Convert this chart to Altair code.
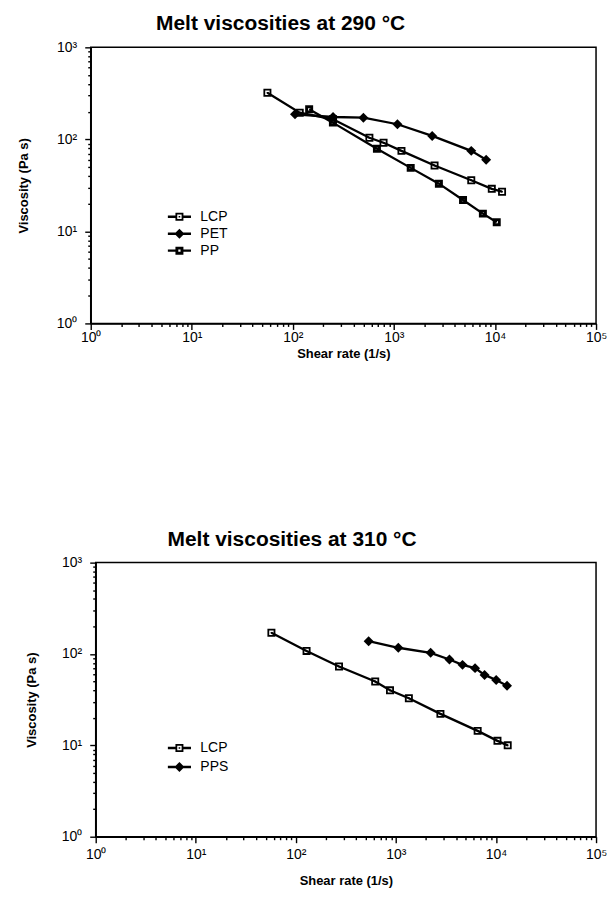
import altair as alt
import pandas as pd

# ---------------- data ----------------
# Melt viscosities at 290 °C
lcp290_rate = [56, 117, 250, 572, 790, 1188, 2525, 5825, 9300, 11750]
lcp290_visc = [321, 195, 165, 104, 92, 75, 52, 36, 29, 27]
pet290_rate = [105, 250, 499, 1084, 2393, 5825, 8180]
pet290_visc = [187, 175, 172, 146, 109, 75, 60]
pp290_rate = [145, 249, 679, 1466, 2786, 4830, 7590, 10410]
pp290_visc = [212, 152, 79, 49, 33, 21.9, 15.6, 12.6]

# Melt viscosities at 310 °C
lcp310_rate = [57, 128, 270, 621, 873, 1347, 2786, 6560, 10350, 13100]
lcp310_visc = [171, 108, 73, 50, 40, 32.8, 22.1, 14.4, 11.2, 10.0]
pps310_rate = [534, 1057, 2222, 3426, 4630, 6180, 7690, 10050, 12900]
pps310_visc = [138, 117, 103, 87, 76, 70, 59, 52, 45]

names290 = ["LCP", "PET", "PP"]
names310 = ["LCP", "PPS"]

x_ticks = sorted([m * 10 ** k for k in range(0, 5) for m in range(1, 10)] + [100000])
y_ticks = sorted([m * 10 ** k for k in range(0, 3) for m in range(1, 10)] + [1000])

FONT = "Liberation Sans"
IS_DEC = "abs(log(datum.value)/LN10 - round(log(datum.value)/LN10)) < 0.001"
SUP = "['\u2070','\u00b9','\u00b2','\u00b3','\u2074','\u2075'][round(log(datum.value)/LN10)]"
LABEL_EXPR = IS_DEC + " ? '10' + " + SUP + " : ''"

# marker shapes (unit square -1..1, holes drawn counter-clockwise)
OPEN_SQ = ("M-1,-1L1,-1L1,1L-1,1Z M-0.55,-0.55L-0.55,0.55L0.55,0.55L0.55,-0.55Z "
           "M-0.2,-0.2L0.2,-0.2L0.2,0.2L-0.2,0.2Z")
DOT_SQ = "M-1,-1L1,-1L1,1L-1,1Z M-0.28,-0.28L-0.28,0.28L0.28,0.28L0.28,-0.28Z"
DIAMOND = "M0,-1.25L1.25,0L0,1.25L-1.25,0Z"
SEGS = "M-2.9,-0.3L-1,-0.3L-1,0.3L-2.9,0.3Z M1,-0.3L2.9,-0.3L2.9,0.3L1,0.3Z "
LEG_OPEN = SEGS + OPEN_SQ
LEG_DOT = SEGS + DOT_SQ
LEG_DIAM = "M-2.9,-0.3L2.9,-0.3L2.9,0.3L-2.9,0.3Z " + DIAMOND


def frame(names, rates, viscs):
    rows = []
    for n, r, v in zip(names, rates, viscs):
        for a, b in zip(r, v):
            rows.append({"series": n, "rate": a, "visc": b})
    return pd.DataFrame(rows)


def panel(df, names, marker_paths, legend_paths, title, title_dx, w, h,
          leg_x, leg_y, leg_row_pad, x_lab_pad, x_title_pad, y_title_pad):
    xs = alt.Scale(type="log", domain=[1, 100000], nice=False)
    ys = alt.Scale(type="log", domain=[1, 1000], nice=False)
    common = dict(tickWidth=1.4, tickColor="black", domainColor="black", domainWidth=1.5,
                  tickSize=alt.condition(IS_DEC, alt.value(6), alt.value(3)),
                  labelExpr=LABEL_EXPR, labelFont=FONT, labelFontSize=14,
                  labelColor="black", labelFlush=False, labelOverlap=False, grid=False,
                  titleFont=FONT, titleFontSize=13, titleFontWeight="bold", titleColor="black")
    ax_x = alt.Axis(values=x_ticks, orient="bottom", labelPadding=x_lab_pad,
                    title="Shear rate (1/s)", titlePadding=x_title_pad, **common)
    ax_y = alt.Axis(values=y_ticks, orient="left", labelPadding=8,
                    title="Viscosity (Pa s)", titlePadding=y_title_pad, **common)

    base = alt.Chart(df)
    x_enc = alt.X("rate:Q", scale=xs, axis=ax_x)
    y_enc = alt.Y("visc:Q", scale=ys, axis=ax_y)
    lines = base.mark_line(color="black", strokeWidth=2.3).encode(
        x=x_enc, y=y_enc, detail="series:N")
    marks = base.mark_point(filled=True, fill="black", strokeWidth=0, opacity=1, size=64).encode(
        x=x_enc, y=y_enc,
        shape=alt.Shape("series:N", scale=alt.Scale(domain=names, range=marker_paths), legend=None),
    )
    leg = base.transform_filter("datum.series == '__none__'").mark_point(
        filled=True, fill="black", strokeWidth=0, opacity=1, size=64).encode(
        x=x_enc, y=y_enc,
        shape=alt.Shape("series:N", scale=alt.Scale(domain=names, range=legend_paths),
                        legend=alt.Legend(title=None, orient="none", legendX=leg_x, legendY=leg_y,
                                          labelFont=FONT, labelFontSize=14, labelColor="black",
                                          labelOffset=14, symbolSize=64, symbolFillColor="black",
                                          symbolStrokeWidth=0, rowPadding=leg_row_pad, padding=0)),
    )
    return alt.layer(lines, marks, leg).resolve_scale(shape="independent").properties(
        width=w, height=h,
        view=alt.ViewBackground(stroke="black", strokeWidth=1.5),
        title=alt.TitleParams(title, font=FONT, fontSize=21, fontWeight="bold", color="black",
                              anchor="middle", frame="group", dx=title_dx, offset=6),
    )


def spacer():
    return alt.Chart(pd.DataFrame({"v": [0]})).mark_point(opacity=0).encode(
        x=alt.value(0), y=alt.value(0)).properties(
        width=1, height=1, view=alt.ViewBackground(stroke="transparent"))


df290 = frame(names290, [lcp290_rate, pet290_rate, pp290_rate], [lcp290_visc, pet290_visc, pp290_visc])
df310 = frame(names310, [lcp310_rate, pps310_rate], [lcp310_visc, pps310_visc])

top = panel(df290, names290, [OPEN_SQ, DIAMOND, DOT_SQ], [LEG_OPEN, LEG_DIAM, LEG_DOT],
            "Melt viscosities at 290 \u00b0C", -63, 507, 277, 82, 163, 3, 1, 3, 26)
bottom = panel(df310, names310, [OPEN_SQ, DIAMOND], [LEG_OPEN, LEG_DIAM],
               "Melt viscosities at 310 \u00b0C", -54, 502, 275, 77, 179, 5, 5, 13, 23)

row1 = alt.hconcat(spacer(), top, spacing=0)
row2 = alt.hconcat(spacer(), bottom, spacing=8)

chart = alt.vconcat(row1, row2, spacing=167).properties(
    padding={"left": 0, "top": 3, "right": 0, "bottom": 0}
).configure(font=FONT)

chart.save("out.html", embed_options={"renderer": "svg", "actions": False})
